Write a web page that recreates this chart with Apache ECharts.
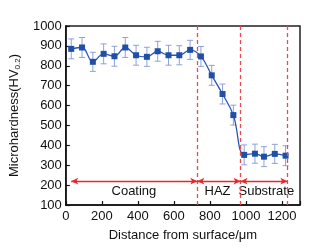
<!DOCTYPE html>
<html>
<head>
<meta charset="utf-8">
<script src="https://cdn.jsdelivr.net/npm/echarts@6/dist/echarts.min.js"></script>
<style>
  html, body { margin: 0; padding: 0; background: #fff; }
  #chart { width: 324px; height: 249px; }
</style>
</head>
<body>
<div id="chart"></div>
<script>
// distance from surface (um) and microhardness
const distances = [30, 90, 150, 210, 270, 330, 390, 450, 510, 570, 630, 690, 750, 810, 870, 930, 990, 1050, 1100, 1160, 1220];
const hardness = [885, 892, 820, 860, 848, 892, 853, 845, 873, 853, 853, 880, 847, 752, 658, 552, 352, 358, 343, 357, 348];
const errors = [50, 50, 48, 50, 50, 50, 50, 48, 50, 50, 48, 48, 50, 50, 50, 50, 50, 48, 50, 48, 50];

// zone boundaries (dashed lines) and labels
const boundaries = [730, 970, 1230];
const arrowStart = 30;
const arrowY = 220;
const zoneNames = ['Coating', 'HAZ', 'Substrate'];
const zoneLabelX = [378, 842, 1113];
const zoneLabelY = 166;

const xTicks = [0, 200, 400, 600, 800, 1000, 1200];
const yTicks = [100, 200, 300, 400, 500, 600, 700, 800, 900, 1000];

const chart = echarts.init(document.getElementById('chart'));

const font = 'Liberation Sans, Arial, sans-serif';
const edges = [arrowStart].concat(boundaries);

const option = {
  animation: false,
  grid: {
    left: 63, right: 24, top: 26, bottom: 44,
    show: true, borderColor: '#222', borderWidth: 1.5,
  },
  xAxis: {
    type: 'value',
    min: 0, max: 1300, interval: 200,
    name: 'Distance from surface/μm',
    nameLocation: 'middle',
    nameGap: 24,
    nameTextStyle: { fontFamily: font, fontSize: 13, color: '#111' },
    axisLine: { lineStyle: { color: '#111', width: 1.5 } },
    axisTick: { inside: true, length: 4, lineStyle: { color: '#111', width: 1.2 } },
    axisLabel: {
      fontFamily: font, fontSize: 13, color: '#111', margin: 5,
      formatter: (v) => (xTicks.indexOf(v) >= 0 ? String(v) : ''),
    },
    splitLine: { show: false },
  },
  yAxis: {
    type: 'value',
    min: 100, max: 1000, interval: 100,
    name: 'Microhardness(HV{sub|0.2})',
    nameLocation: 'middle',
    nameGap: 42,
    nameTextStyle: {
      fontFamily: font, fontSize: 13, color: '#111',
      rich: { sub: { fontFamily: font, fontSize: 8, color: '#111', padding: [7, 0, 0, 0] } },
    },
    axisLine: { lineStyle: { color: '#111', width: 1.5 } },
    axisTick: { inside: true, length: 4, lineStyle: { color: '#111', width: 1.2 } },
    axisLabel: {
      fontFamily: font, fontSize: 13, color: '#111', margin: 4,
      formatter: (v) => (yTicks.indexOf(v) >= 0 ? String(v) : ''),
    },
    splitLine: { show: false },
  },
  series: [
    {
      // error bars
      type: 'custom',
      z: 2,
      data: distances.map((d, i) => [d, hardness[i] - errors[i], hardness[i] + errors[i]]),
      renderItem: (params, api) => {
        const lo = api.coord([api.value(0), api.value(1)]);
        const hi = api.coord([api.value(0), api.value(2)]);
        const w = 3;
        const style = { stroke: '#8fa0d8', lineWidth: 1 };
        return {
          type: 'group',
          children: [
            { type: 'line', shape: { x1: hi[0], y1: hi[1], x2: lo[0], y2: lo[1] }, style },
            { type: 'line', shape: { x1: hi[0] - w, y1: hi[1], x2: hi[0] + w, y2: hi[1] }, style },
            { type: 'line', shape: { x1: lo[0] - w, y1: lo[1], x2: lo[0] + w, y2: lo[1] }, style },
          ],
        };
      },
    },
    {
      type: 'line',
      z: 3,
      data: distances.map((d, i) => [d, hardness[i]]),
      smooth: 0.4,
      symbol: 'rect',
      symbolSize: 6,
      itemStyle: { color: '#1f4fa8' },
      lineStyle: { color: '#2a55b0', width: 1.3 },
      markLine: {
        silent: true,
        symbol: ['none', 'none'],
        label: { show: false },
        lineStyle: { color: '#ec4a4f', type: [4, 3], width: 1.3 },
        data: boundaries.map((b) => [{ coord: [b, 100] }, { coord: [b, 1000] }]),
      },
    },
    {
      // zone arrows
      type: 'line',
      data: [],
      markLine: {
        silent: true,
        symbol: ['arrow', 'arrow'],
        symbolSize: [5, 7],
        label: { show: false },
        lineStyle: { color: '#e8262c', type: 'solid', width: 1.3 },
        data: zoneNames.map((n, i) => [
          { coord: [edges[i], arrowY] },
          { coord: [edges[i + 1], arrowY] },
        ]),
      },
    },
    {
      // zone labels
      type: 'scatter',
      symbolSize: 0,
      itemStyle: { opacity: 1 },
      data: zoneNames.map((n, i) => ({ value: [zoneLabelX[i], zoneLabelY], name: n })),
      label: {
        show: true,
        position: 'inside',
        formatter: (p) => p.name,
        fontFamily: font, fontSize: 13, color: '#111',
      },
    },
  ],
};

chart.setOption(option);
</script>
</body>
</html>
